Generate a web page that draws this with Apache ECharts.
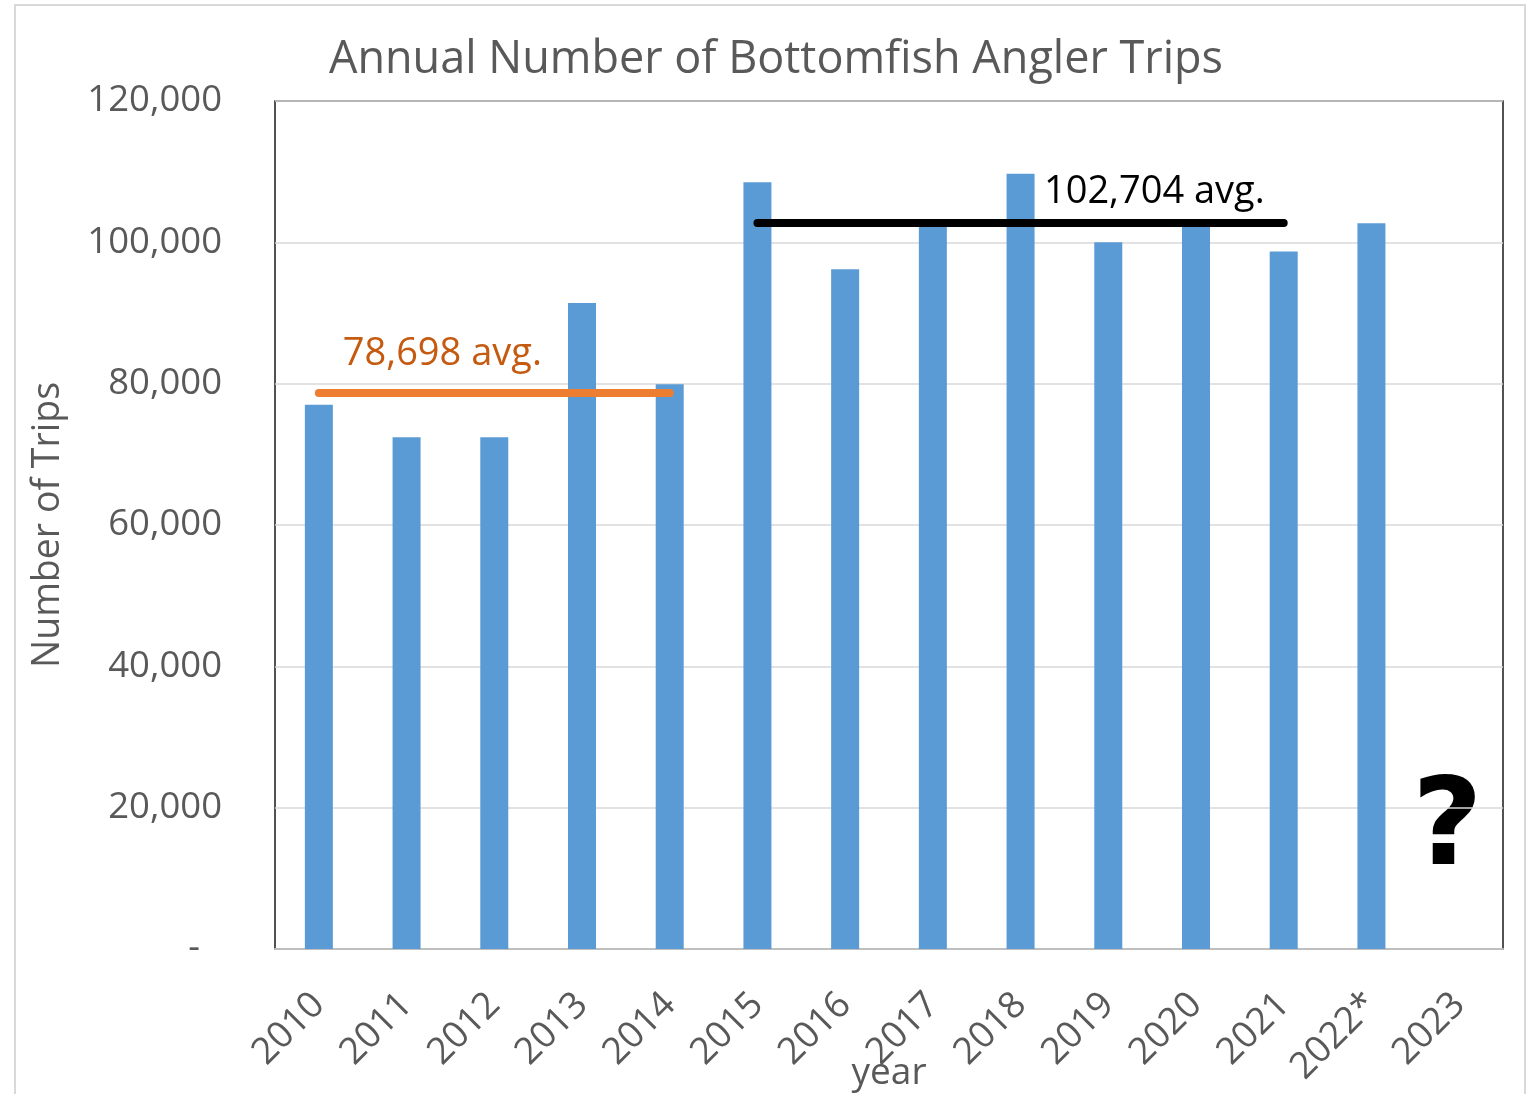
<!DOCTYPE html>
<html><head><meta charset="utf-8">
<script src="https://cdn.jsdelivr.net/npm/echarts@6/dist/echarts.min.js"></script>
<style>html,body{margin:0;padding:0;background:#fff}#c{width:1537px;height:1094px}</style>
</head><body><div id="c"></div>
<script>
const years = ['2010','2011','2012','2013','2014','2015','2016','2017','2018','2019','2020','2021','2022*','2023'];
const trips = [77000, 72400, 72400, 91400, 79900, 108500, 96200, 102900, 109700, 100000, 102900, 98700, 102700, null];
const yTicks = [0, 20000, 40000, 60000, 80000, 100000, 120000];
const avgEarly = 78698, avgEarlyFrom = '2010', avgEarlyTo = '2014';
const avgLate = 102704, avgLateFrom = '2015', avgLateTo = '2021';
const titleText = 'Annual Number of Bottomfish Angler Trips';

const FONT = '"Open Sans", "Noto Sans", sans-serif';
const GREY = '#595959';
const chart = echarts.init(document.getElementById('c'), null, {renderer:'canvas'});
chart.setOption({
  animation:false,
  backgroundColor:'#fff',
  title:{text:titleText, left:771, top:33, textAlign:'center',
    textStyle:{fontFamily:FONT, fontSize:45, fontWeight:'normal', color:GREY}},
  grid:{left:275, right:34, top:101, bottom:145, show:true, borderColor:'#1a1a1a', borderWidth:1.5,
    containLabel:false, outerBoundsMode:'none'},
  xAxis:{type:'category', data:years, name:'year', nameLocation:'middle', nameGap:106, nameMoveOverlap:false,
    nameTextStyle:{fontFamily:FONT, fontSize:37, color:GREY},
    axisLine:{show:true, lineStyle:{color:'#bfbfbf', width:2}}, axisTick:{show:false},
    axisLabel:{interval:0, rotate:45, margin:50, fontFamily:FONT, fontSize:37, color:GREY}},
  yAxis:{type:'value', min:yTicks[0], max:yTicks[yTicks.length-1], interval:20000,
    name:'Number of Trips', nameLocation:'middle', nameGap:208, nameMoveOverlap:false,
    nameTextStyle:{fontFamily:FONT, fontSize:37.5, color:GREY},
    axisLine:{show:false}, axisTick:{show:false},
    splitLine:{lineStyle:{color:'#d9d9d9', width:1.5}},
    axisLabel:{margin:53, fontFamily:FONT, fontSize:36.5, color:GREY,
      formatter:v => v === 0 ? '{d|-}' : v.toLocaleString('en-US'),
      rich:{d:{fontFamily:FONT, fontSize:36.5, color:GREY, padding:[0,22,0,0]}}}},
  series:[{
    type:'bar', data:trips, barWidth:28, itemStyle:{color:'#5B9BD5'},
    markLine:{silent:true, symbol:'none', animation:false,
      data:[
        [{coord:[avgEarlyFrom, avgEarly], lineStyle:{color:'#ED7D31', width:8, type:'solid', cap:'round'},
          label:{show:true, position:'insideStartTop', formatter:avgEarly.toLocaleString('en-US')+' avg.',
            fontFamily:FONT, fontSize:38, color:'#C55A11', distance:[24, 20]}},
         {coord:[avgEarlyTo, avgEarly]}],
        [{coord:[avgLateFrom, avgLate], lineStyle:{color:'#000', width:8, type:'solid', cap:'round'},
          label:{show:true, position:'insideEndTop', formatter:avgLate.toLocaleString('en-US')+' avg.',
            fontFamily:FONT, fontSize:38, color:'#000', distance:[19, 12]}},
         {coord:[avgLateTo, avgLate]}]
      ]}
  }],
  graphic:[
    {type:'rect', silent:true, z:-1, shape:{x:15, y:5, width:1510, height:1110}, style:{fill:'none', stroke:'#d9d9d9', lineWidth:2}},
    {type:'text', left:1412, top:771, style:{text:'?', fontFamily:'"DejaVu Sans", sans-serif', fontWeight:'bold', fontSize:122, fill:'#000'}}
  ]
});
</script></body></html>
